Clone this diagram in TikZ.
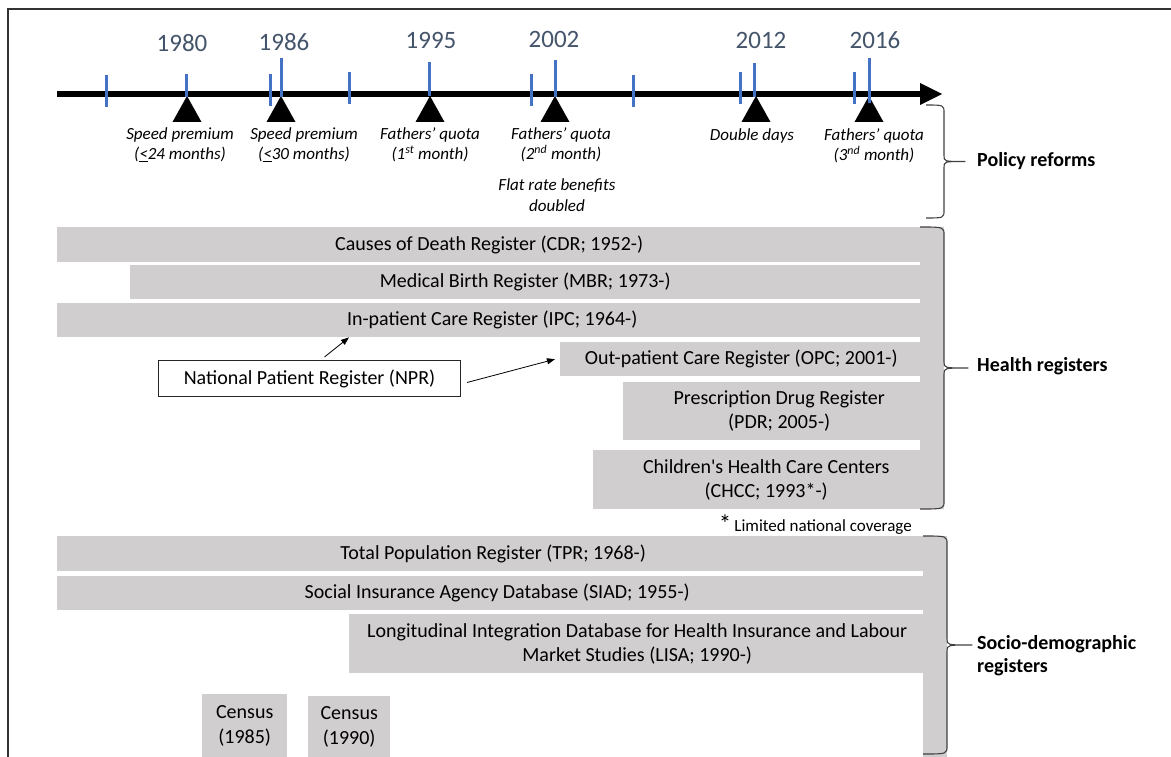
\documentclass[tikz,border=0pt]{standalone}
\usepackage{fontspec}
\setmainfont{Carlito}[Ligatures=TeXOff]
\usetikzlibrary{arrows.meta,calc}
\definecolor{barGray}{HTML}{D0CECE}
\definecolor{tickBlue}{HTML}{4472C4}
\definecolor{yearCol}{HTML}{44546A}
% custom right brace: x0 (hook ends), x1 (spine), xt (tip), top, bottom
\newcommand\drawbrace[5]{%
  \draw[brcline] (#1,#4) .. controls (#2,#4) .. (#2,#4+8)
    -- (#2,{(#4+#5)/2-6}) .. controls (#2,{(#4+#5)/2}) .. (#3,{(#4+#5)/2})
    .. controls (#2,{(#4+#5)/2}) .. (#2,{(#4+#5)/2+6})
    -- (#2,#5-8) .. controls (#2,#5) .. (#1,#5);}
\begin{document}
\begin{tikzpicture}[x=1pt,y=-1pt,
  bar/.style={fill=barGray, inner sep=0pt, anchor=north west, align=center, font=\fontsize{20}{24.5}\selectfont},
  yearlbl/.style={text=yearCol, font=\fontsize{25}{25}\selectfont, inner sep=0pt},
  bluetick/.style={draw=tickBlue, line width=3pt},
  reform/.style={font=\fontsize{17}{20.5}\selectfont\itshape, align=center, inner sep=0pt},
  grp/.style={font=\fontsize{20}{23}\selectfont\bfseries, align=left, anchor=west, inner sep=0pt},
  brcline/.style={draw=black!75, line width=1.1pt, line join=round},
  npra/.style={draw=black, line width=0.8pt, -{Triangle[length=8pt,width=6pt]}},
  trimark/.style={fill=black}
]
\useasboundingbox (0,0) rectangle (1171,757);

% frame
\draw[line width=2pt, black!80] (8,757) -- (8,9) -- (1171,9);

% timeline
\coordinate (tlstart) at (57,94);
\coordinate (tlend) at (921,94);
\draw[line width=6.5pt] (tlstart) -- (tlend);
\fill (920,83) -- (942,94) -- (920,105) -- cycle;

% triangles
\foreach \x in {187,281,430,555,756,869}
  \fill[trimark] (\x-14.5,122) -- (\x,96) -- (\x+14.5,122) -- cycle;

% ticks
\foreach \x/\a/\b in {106/75/107, 186/74/97, 270/74/106, 281/58/97, 349/72/104, 429/62/96, 531/74/106, 555/60/97, 633/75/107, 740/72/104, 754/63/97, 854/72/104, 869/58/103}
  \draw[bluetick] (\x,\a) -- (\x,\b);

% years
\node[yearlbl] (y1980) at (182,43) {1980};
\node[yearlbl] (y1986) at (284,42) {1986};
\node[yearlbl] (y1995) at (431,40) {1995};
\node[yearlbl] (y2002) at (554,39) {2002};
\node[yearlbl] (y2012) at (761,40) {2012};
\node[yearlbl] (y2016) at (875,40) {2016};

% reform labels
\node[reform] (sp1) at (180,145) {Speed premium\\(\underline{<}24 months)};
\node[reform] (sp2) at (304,145) {Speed premium\\(\underline{<}30 months)};
\node[reform] (fq1) at (430,145) {Fathers’ quota\\(1\textsuperscript{st} month)};
\node[reform] (fq2) at (561,145) {Fathers’ quota\\(2\textsuperscript{nd} month)};
\node[reform] (flat) at (557,195) {Flat rate benefits\\doubled};
\node[reform] (dd) at (752,136) {Double days};
\node[reform] (fq3) at (874,146) {Fathers’ quota\\(3\textsuperscript{nd} month)};

% gray columns
\fill[barGray] (920,227) rectangle (944,509);
\fill[barGray] (923,536) rectangle (947,757);

% health registers
\node[bar, minimum width=864, minimum height=35] (cdr) at (57,227) {Causes of Death Register (CDR; 1952-)};
\node[bar, minimum width=790, minimum height=34] (mbr) at (130,265) {Medical Birth Register (MBR; 1973-)};
\node[bar, minimum width=870, minimum height=34] (ipc) at (57,303) {In-patient Care Register (IPC; 1964-)};
\node[bar, minimum width=362, minimum height=34] (opc) at (560,342) {Out-patient Care Register (OPC; 2001-)};
\node[bar, minimum width=312, minimum height=58] (pdr) at (623,382) {Prescription Drug Register\\(PDR; 2005-)};
\node[bar, minimum width=346, minimum height=59] (chcc) at (593,450) {Children's Health Care Centers\\(CHCC; 1993*-)};

% NPR
\node[draw=black!85, line width=1pt, fill=white, inner sep=0pt, minimum width=302, minimum height=36, anchor=north west, font=\fontsize{20}{24}\selectfont] (npr) at (158,360) {National Patient Register (NPR)};
\draw[npra] ([xshift=15pt,yshift=3pt]npr.north) -- ([xshift=292pt]ipc.south west);
\draw[npra] ([xshift=6pt,yshift=-4pt]npr.east) -- ([xshift=-5pt]opc.west);

% note
\node[anchor=base east, inner sep=0pt, font=\fontsize{17}{18}\selectfont] (note) at (912,531) {{\fontsize{25}{25}\selectfont\raisebox{-1pt}{*}}\hspace{3pt}Limited national coverage};

% socio-demographic
\node[bar, minimum width=872, minimum height=35] (tpr) at (57,536) {Total Population Register (TPR; 1968-)};
\node[bar, minimum width=880, minimum height=34] (siad) at (57,576) {Social Insurance Agency Database (SIAD; 1955-)};
\node[bar, minimum width=576, minimum height=59] (lisa) at (349,614) {Longitudinal Integration Database for Health Insurance and Labour\\Market Studies (LISA; 1990-)};
\node[bar, minimum width=85, minimum height=63] (cen85) at (202,694) {Census\\(1985)};
\node[bar, minimum width=82, minimum height=61] (cen90) at (308,696) {Census\\(1990)};

% braces
\drawbrace{926}{944}{965}{105}{218}
\drawbrace{920}{944}{968}{227}{509}
\drawbrace{923}{947}{972}{536}{754}

% group labels
\node[grp] (pol) at (977,161) {Policy reforms};
\node[grp] (hea) at (977,366) {Health registers};
\node[grp] (soc) at (977,656) {Socio-demographic\\registers};
\end{tikzpicture}
\end{document}
